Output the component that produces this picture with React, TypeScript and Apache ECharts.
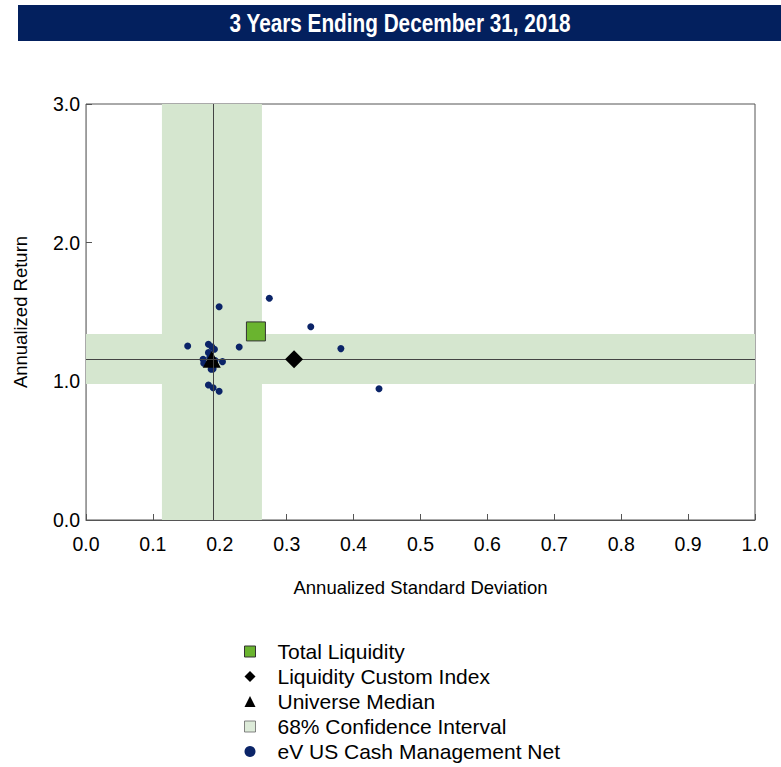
import React, { useEffect, useRef } from "react";
import * as echarts from "echarts";

// Risk / return for the 3-year period ending Dec 31, 2018
const titleText = "3 Years Ending December 31, 2018";

const xTicks = [0, 0.1, 0.2, 0.3, 0.4, 0.5, 0.6, 0.7, 0.8, 0.9, 1.0];
const yTicks = [0, 1, 2, 3];

// eV US Cash Management Net universe: [std dev, return]
const universeStdDev = [
  0.274, 0.199, 0.152, 0.183, 0.188, 0.192, 0.229, 0.183, 0.175, 0.176, 0.204,
  0.187, 0.19, 0.183, 0.19, 0.199, 0.336, 0.381, 0.438, 0.185, 0.193,
];
const universeReturn = [
  1.599, 1.538, 1.255, 1.267, 1.25, 1.231, 1.248, 1.207, 1.159, 1.13, 1.142,
  1.087, 1.09, 0.974, 0.954, 0.928, 1.394, 1.236, 0.947, 1.17, 1.15,
];

const totalLiquidity = [0.254, 1.36];
const customIndex = [0.311, 1.16];
const universeMedian = [0.188, 1.16];

// 68% confidence interval of the universe
const ciStdDev = [0.1135, 0.263];
const ciReturn = [0.981, 1.341];

const seriesNames = [
  "Total Liquidity",
  "Liquidity Custom Index",
  "Universe Median",
  "68% Confidence Interval",
  "eV US Cash Management Net",
];

const SANS = "'Liberation Sans', Arial, sans-serif";

export default function App() {
  const ref = useRef<HTMLDivElement>(null);

  useEffect(() => {
    if (!ref.current) return;
    const chart = echarts.init(ref.current, undefined, { renderer: "svg" });
    const ciColor = "#d5e6cf";
    const navy = "#0b2468";
    const green = "#6ab42f";

    chart.setOption({
      animation: false,
      backgroundColor: "#ffffff",
      graphic: [
        {
          type: "rect",
          shape: { x: 18, y: 5, width: 763, height: 36 },
          style: { fill: "#03205e" },
          z: 10,
        },
        {
          type: "text",
          x: 400,
          y: 23,
          scaleX: 0.83,
          style: {
            text: titleText,
            fill: "#ffffff",
            font: `bold 25px ${SANS}`,
            align: "center",
            verticalAlign: "middle",
          },
          z: 11,
        },
      ],
      grid: {
        left: 86,
        right: 26,
        top: 104,
        bottom: 247,
        show: true,
        borderColor: "#555555",
        borderWidth: 1,
        backgroundColor: "transparent",
      },
      legend: {
        orient: "vertical",
        left: 244,
        top: 640,
        padding: 0,
        itemWidth: 11,
        itemHeight: 11,
        itemGap: 2,
        textStyle: {
          fontFamily: SANS,
          fontSize: 21,
          color: "#000000",
          padding: [0, 0, 0, 17],
          lineHeight: 23,
        },
        data: [
          { name: seriesNames[0], icon: "rect", itemStyle: { color: green, borderColor: "#333", borderWidth: 1 } },
          { name: seriesNames[1], icon: "diamond", itemStyle: { color: "#000000" } },
          { name: seriesNames[2], icon: "triangle", itemStyle: { color: "#000000" } },
          { name: seriesNames[3], icon: "rect", itemStyle: { color: ciColor, borderColor: "#666", borderWidth: 1 } },
          { name: seriesNames[4], icon: "circle", itemStyle: { color: navy } },
        ],
        selectedMode: false,
      },
      xAxis: {
        type: "value",
        min: xTicks[0],
        max: xTicks[xTicks.length - 1],
        interval: 0.1,
        name: "Annualized Standard Deviation",
        nameLocation: "middle",
        nameGap: 58,
        nameTextStyle: { fontFamily: SANS, fontSize: 18.5, color: "#000" },
        axisLine: { show: true, lineStyle: { color: "#555555" } },
        axisTick: { show: true, inside: true, length: 6, lineStyle: { color: "#555555" } },
        axisLabel: {
          margin: 14,
          fontFamily: SANS,
          fontSize: 19.5,
          color: "#000",
          formatter: (v: number) => v.toFixed(1),
        },
        splitLine: { show: false },
      },
      yAxis: {
        type: "value",
        min: yTicks[0],
        max: yTicks[yTicks.length - 1],
        interval: 1,
        name: "Annualized Return",
        nameLocation: "middle",
        nameGap: 56,
        nameTextStyle: { fontFamily: SANS, fontSize: 18.5, color: "#000" },
        axisLine: { show: true, lineStyle: { color: "#999999" } },
        axisTick: { show: true, inside: true, length: 6, lineStyle: { color: "#555555" } },
        axisLabel: {
          margin: 6,
          fontFamily: SANS,
          fontSize: 19.5,
          color: "#000",
          formatter: (v: number) => v.toFixed(1),
        },
        splitLine: { show: false },
      },
      series: [
        {
          name: seriesNames[3],
          type: "scatter",
          data: [],
          z: 1,
          itemStyle: { color: ciColor },
          markArea: {
            silent: true,
            itemStyle: { color: ciColor, opacity: 1 },
            data: [
              [{ xAxis: ciStdDev[0], yAxis: yTicks[0] }, { xAxis: ciStdDev[1], yAxis: yTicks[yTicks.length - 1] }],
              [{ xAxis: xTicks[0], yAxis: ciReturn[0] }, { xAxis: xTicks[xTicks.length - 1], yAxis: ciReturn[1] }],
            ],
          },
          markLine: {
            silent: true,
            symbol: "none",
            label: { show: false },
            lineStyle: { color: "#444444", width: 1, type: "solid" },
            data: [{ xAxis: universeMedian[0] }, { yAxis: universeMedian[1] }],
          },
        },
        {
          name: seriesNames[4],
          type: "scatter",
          symbol: "circle",
          symbolSize: 7,
          z: 3,
          itemStyle: { color: navy, opacity: 1 },
          data: universeStdDev.map((x, i) => [x, universeReturn[i]]),
        },
        {
          name: seriesNames[2],
          type: "scatter",
          symbol: "triangle",
          symbolSize: [18, 17],
          z: 4,
          itemStyle: { color: "#000000", opacity: 1 },
          data: [universeMedian],
        },
        {
          name: seriesNames[1],
          type: "scatter",
          symbol: "diamond",
          symbolSize: 18,
          z: 5,
          itemStyle: { color: "#000000", opacity: 1 },
          data: [customIndex],
        },
        {
          name: seriesNames[0],
          type: "scatter",
          symbol: "rect",
          symbolSize: 19,
          z: 6,
          itemStyle: { color: green, borderColor: "#333333", borderWidth: 1, opacity: 1 },
          data: [totalLiquidity],
        },
      ],
    });

    return () => chart.dispose();
  }, []);

  return (
    <div
      ref={ref}
      style={{ position: "absolute", left: 0, top: 0, width: 781, height: 767, background: "#fff" }}
    />
  );
}
